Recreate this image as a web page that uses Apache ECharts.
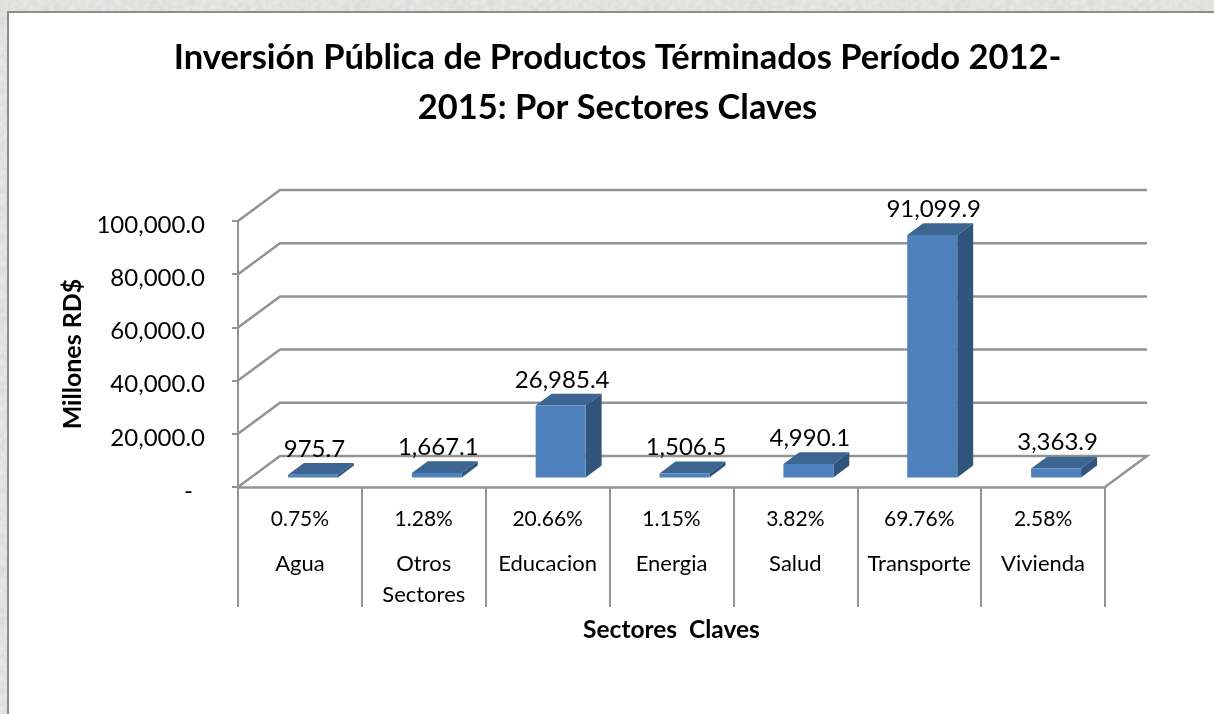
<!DOCTYPE html>
<html>
<head>
<meta charset="utf-8">
<title>Inversión Pública</title>
<style>
html, body { margin: 0; padding: 0; width: 100%; height: 100%; overflow: hidden; background: #e9e8e6; }
#texture { position: absolute; left: 0; top: 0; width: 1214px; height: 714px;
  background-image: url("data:image/svg+xml,%3Csvg xmlns='http://www.w3.org/2000/svg' width='300' height='300'%3E%3Cfilter id='n'%3E%3CfeTurbulence type='fractalNoise' baseFrequency='.18' numOctaves='3'/%3E%3CfeColorMatrix values='0 0 0 0 .6 0 0 0 0 .6 0 0 0 0 .58 .8 0 0 0 -.18'/%3E%3C/filter%3E%3Crect width='300' height='300' filter='url(%23n)'/%3E%3C/svg%3E"); }
#frame { position: absolute; left: 7px; top: 11px; width: 1207px; height: 703px; box-sizing: border-box;
  background: #fff; border-left: 2px solid #8c8c8c; border-top: 2px solid #8c8c8c; }
#main { position: absolute; left: 0; top: 0; width: 1214px; height: 714px; }
</style>
</head>
<body>
<div id="texture"></div>
<div id="frame"></div>
<div id="main"></div>
<script src="https://cdn.jsdelivr.net/npm/echarts@6/dist/echarts.min.js"></script>
<script>
var categories = ['Agua', 'Otros\nSectores', 'Educacion', 'Energia', 'Salud', 'Transporte', 'Vivienda'];
var percents = ['0.75%', '1.28%', '20.66%', '1.15%', '3.82%', '69.76%', '2.58%'];
var values = [975.7, 1667.1, 26985.4, 1506.5, 4990.1, 91099.9, 3363.9];
var yTicks = [0, 20000, 40000, 60000, 80000, 100000];

var font = 'Lato';
var gridColor = '#939393';
// profundidad de la caja y de las barras
var depthX = 42, depthY = 31;
var barNear = 0.31, barFar = 0.69, barWidth = 50;

function fmt(v) {
	return v.toLocaleString('en-US', { minimumFractionDigits: 1, maximumFractionDigits: 1 });
}

var chart = echarts.init(document.getElementById('main'));

// paredes: una linea por cada tick del eje y
function renderWall(params, api) {
	var cs = params.coordSys;
	var y = api.coord([0, api.value(1)])[1];
	var x0 = cs.x, x1 = cs.x + cs.width;
	var points = [[x0, y], [x0 + depthX, y - depthY], [x1 + depthX, y - depthY]];
	if (api.value(1) === 0) {
		points.push([x1, y]);
	}
	return {
		type: 'polyline',
		shape: { points: points },
		style: { fill: null, stroke: gridColor, lineWidth: 2.5 }
	};
}

// barra 3d: frente, tapa, lateral y etiqueta
function renderBar(params, api) {
	var base = api.coord([api.value(0), 0]);
	var top = api.coord([api.value(0), api.value(1)]);
	var dx = depthX * barNear, dy = depthY * barNear;
	var ox = depthX * (barFar - barNear), oy = depthY * (barFar - barNear);
	var l = base[0] - barWidth / 2 + dx, r = l + barWidth;
	var b = base[1] - dy, t = top[1] - dy;
	return {
		type: 'group',
		children: [
			{ type: 'polygon', shape: { points: [[l, t], [r, t], [r + ox, t - oy], [l + ox, t - oy]] }, style: { fill: '#3c6592' } },
			{ type: 'polygon', shape: { points: [[r, t], [r + ox, t - oy], [r + ox, b - oy], [r, b]] }, style: { fill: '#31547c' } },
			{ type: 'rect', shape: { x: l, y: t, width: barWidth, height: b - t }, style: { fill: '#4f81bd' } },
			{ type: 'text', style: {
				x: (l + r + ox) / 2 - 6.5, y: t - oy - 14,
				text: fmt(api.value(1)), fill: '#000', font: '24px ' + font,
				align: 'center', verticalAlign: 'middle'
			} }
		]
	};
}

var option = {
	animation: false,
	backgroundColor: 'transparent',
	textStyle: { fontFamily: font },
	title: {
		text: 'Inversión Pública de Productos Términados Período 2012-\n2015: Por Sectores Claves',
		left: 612.5,
		top: 28,
		textAlign: 'center',
		textStyle: { fontFamily: font, fontWeight: 'bold', fontSize: 34.5, color: '#000', lineHeight: 50 }
	},
	grid: { left: 238, right: 109, top: 221, bottom: 227 },
	xAxis: {
		type: 'category',
		data: categories,
		boundaryGap: true,
		name: 'Sectores  Claves',
		nameLocation: 'middle',
		nameGap: 131,
		nameTextStyle: { fontFamily: font, fontWeight: 'bold', fontSize: 24.5, color: '#000' },
		axisLine: { lineStyle: { color: gridColor, width: 2.5 } },
		axisTick: { show: true, length: 120, interval: 0, lineStyle: { color: gridColor, width: 2 } },
		axisLabel: {
			interval: 0,
			margin: 10,
			color: '#000',
			formatter: function(value, index) {
				var parts = value.split('\n');
				var s = '{p|' + percents[index] + '}\n{n|' + parts[0] + '}';
				if (parts[1]) {
					s += '\n{m|' + parts[1] + '}';
				}
				return s;
			},
			rich: {
				p: { fontFamily: font, fontSize: 21, lineHeight: 44, color: '#000' },
				n: { fontFamily: font, fontSize: 22, lineHeight: 45, color: '#000' },
				m: { fontFamily: font, fontSize: 22, lineHeight: 18, color: '#000' }
			}
		}
	},
	yAxis: {
		type: 'value',
		min: 0,
		max: 100000,
		interval: 20000,
		name: 'Millones RD$',
		nameLocation: 'middle',
		nameGap: 148,
		nameTextStyle: { fontFamily: font, fontWeight: 'bold', fontSize: 25, color: '#000' },
		splitLine: { show: false },
		axisLine: { show: true, lineStyle: { color: gridColor, width: 2 } },
		axisTick: { show: true, length: 6, lineStyle: { color: gridColor, width: 2 } },
		axisLabel: {
			margin: 12,
			color: '#000',
			fontSize: 24,
			formatter: function(v) {
				return v === 0 ? '{d|-}' : '{n|' + fmt(v) + '}';
			},
			rich: {
				d: { fontFamily: font, fontSize: 24, color: '#000', padding: [8, 33, 0, 0] },
				n: { fontFamily: font, fontSize: 24, color: '#000', padding: [8, 21, 0, 0] }
			}
		}
	},
	series: [{
		type: 'custom',
		z: 1,
		silent: true,
		renderItem: renderWall,
		encode: { x: 0, y: 1 },
		data: yTicks.map(function(v) { return [0, v]; })
	}, {
		type: 'custom',
		z: 3,
		renderItem: renderBar,
		encode: { x: 0, y: 1 },
		data: values.map(function(v, i) { return [i, v]; })
	}]
};

chart.setOption(option);
</script>
</body>
</html>
